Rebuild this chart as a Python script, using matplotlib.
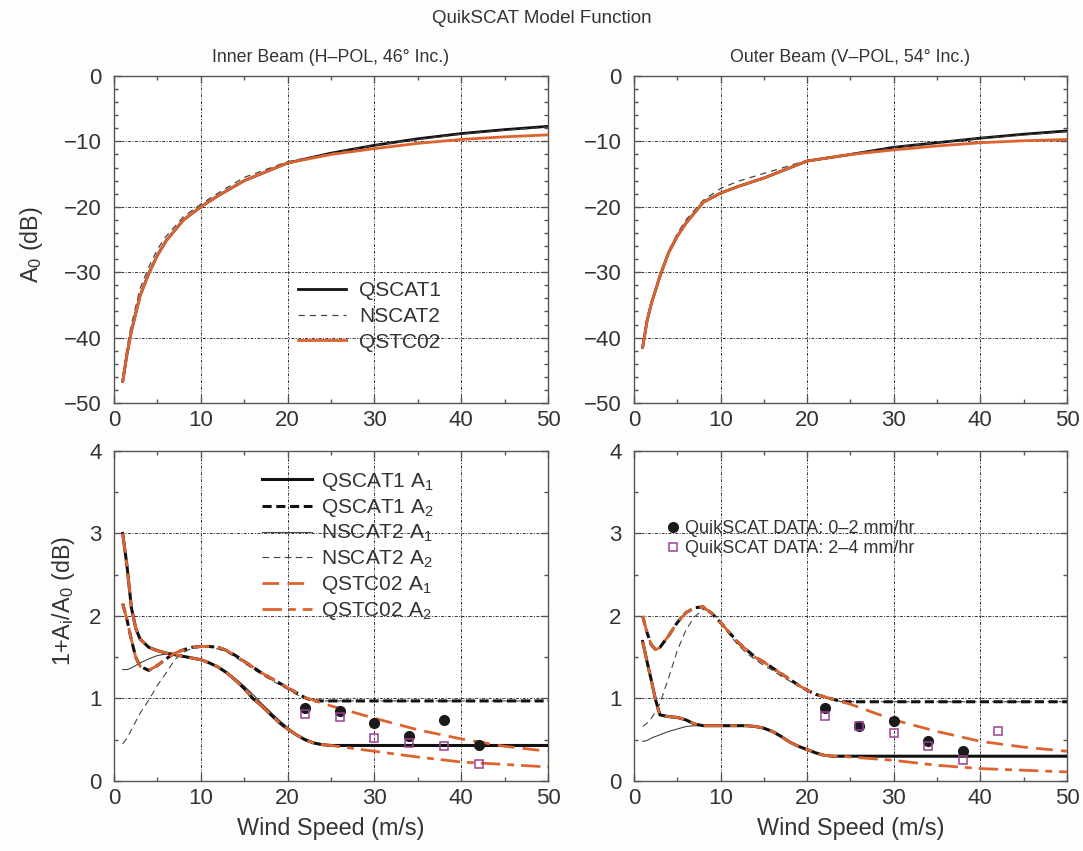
import numpy as np
import matplotlib
matplotlib.use('Agg')
import matplotlib.pyplot as plt
from matplotlib.ticker import MultipleLocator

plt.rcParams['font.family'] = ['Liberation Sans', 'DejaVu Sans']
plt.rcParams['mathtext.fontset'] = 'custom'
plt.rcParams['mathtext.rm'] = 'Liberation Sans'
plt.rcParams['mathtext.it'] = 'Liberation Sans'
plt.rcParams['mathtext.default'] = 'regular'

TXT = '#333333'
ORANGE = '#dd6430'
PURPLE = '#9b3f92'

# ---- A0 (top panels) ----
ws_a0 = [1, 1.5, 2, 3, 4, 5, 6, 8, 10, 12, 15, 20, 25, 30, 35, 40, 45, 50]

qscat1_a0_in = [-46.7, -42.5, -39.0, -33.6, -30.2, -27.4, -25.2, -22.0, -20.0, -18.3, -16.0, -13.3, -11.8, -10.6, -9.6, -8.8, -8.2, -7.7]
nscat2_a0_in = [-46.0, -41.5, -38.0, -32.5, -29.2, -26.5, -24.5, -21.5, -19.6, -17.9, -15.5, -13.1, -11.8, -10.6, -9.7, -8.9, -8.3, -7.8]
qstc02_a0_in = [-46.7, -42.5, -39.0, -33.6, -30.2, -27.4, -25.2, -22.0, -20.0, -18.3, -16.0, -13.3, -12.0, -11.1, -10.3, -9.7, -9.3, -9.0]

qscat1_a0_out = [-41.5, -37.5, -34.8, -30.6, -27.0, -24.5, -22.5, -19.3, -17.9, -16.9, -15.6, -13.0, -12.0, -10.9, -10.2, -9.5, -8.9, -8.4]
nscat2_a0_out = [-41.5, -37.5, -34.6, -30.3, -26.7, -24.1, -22.0, -19.0, -17.2, -16.1, -14.9, -12.9, -11.9, -10.9, -10.2, -9.5, -9.0, -8.5]
qstc02_a0_out = [-41.5, -37.5, -34.8, -30.6, -27.0, -24.5, -22.5, -19.3, -17.9, -16.9, -15.6, -13.0, -12.0, -11.3, -10.7, -10.2, -9.9, -9.7]

# ---- 1 + Ai/A0 (bottom panels) ----
ws_a = [1, 1.5, 2, 2.5, 3, 4, 5, 6, 7, 8, 9, 10, 11, 12, 13, 14, 15, 16, 17, 18, 19, 20,
        21, 22, 23, 24, 25, 30, 35, 40, 45, 50]

qscat1_a1_in = [3.00, 2.60, 2.10, 1.85, 1.72, 1.62, 1.58, 1.55, 1.53, 1.51, 1.49, 1.47, 1.43, 1.38, 1.31, 1.22,
                1.12, 1.00, 0.91, 0.81, 0.71, 0.63, 0.56, 0.50, 0.46, 0.44, 0.43, 0.43, 0.43, 0.43, 0.43, 0.43]
qscat1_a2_in = [2.15, 1.95, 1.71, 1.50, 1.39, 1.34, 1.40, 1.48, 1.55, 1.59, 1.62, 1.63, 1.63, 1.62, 1.58, 1.52,
                1.45, 1.38, 1.31, 1.25, 1.19, 1.13, 1.07, 1.01, 0.97, 0.97, 0.97, 0.97, 0.97, 0.97, 0.97, 0.97]
nscat2_a1_in = [1.35, 1.35, 1.37, 1.40, 1.43, 1.48, 1.52, 1.54, 1.53, 1.51, 1.49, 1.46, 1.43, 1.38, 1.32, 1.24,
                1.15, 1.05, 0.94, 0.84, 0.74, 0.65, 0.57, 0.51, 0.47, 0.44, 0.43, 0.43, 0.43, 0.43, 0.43, 0.43]
nscat2_a2_in = [0.45, 0.52, 0.62, 0.72, 0.82, 0.98, 1.16, 1.31, 1.47, 1.56, 1.61, 1.62, 1.62, 1.60, 1.56, 1.50,
                1.43, 1.36, 1.29, 1.23, 1.17, 1.11, 1.05, 1.00, 0.97, 0.97, 0.97, 0.97, 0.97, 0.97, 0.97, 0.97]
qstc02_a1_in = [2.15, 1.95, 1.71, 1.50, 1.39, 1.34, 1.40, 1.48, 1.55, 1.59, 1.62, 1.63, 1.63, 1.62, 1.58, 1.52,
                1.45, 1.38, 1.31, 1.25, 1.19, 1.13, 1.07, 1.01, 0.98, 0.94, 0.91, 0.76, 0.62, 0.51, 0.42, 0.36]
qstc02_a2_in = [3.00, 2.60, 2.10, 1.85, 1.72, 1.62, 1.58, 1.55, 1.53, 1.51, 1.49, 1.47, 1.43, 1.38, 1.31, 1.22,
                1.12, 1.00, 0.91, 0.81, 0.71, 0.63, 0.56, 0.50, 0.46, 0.44, 0.43, 0.36, 0.29, 0.23, 0.20, 0.17]

qscat1_a1_out = [1.69, 1.45, 1.22, 0.98, 0.80, 0.78, 0.77, 0.74, 0.69, 0.67, 0.67, 0.67, 0.67, 0.67, 0.67, 0.66,
                 0.64, 0.60, 0.54, 0.47, 0.42, 0.38, 0.34, 0.31, 0.30, 0.30, 0.30, 0.30, 0.30, 0.30, 0.30, 0.30]
qscat1_a2_out = [2.00, 1.80, 1.65, 1.59, 1.62, 1.76, 1.92, 2.04, 2.10, 2.11, 2.03, 1.92, 1.80, 1.68, 1.59, 1.50,
                 1.44, 1.37, 1.30, 1.23, 1.16, 1.10, 1.05, 1.02, 0.99, 0.96, 0.96, 0.96, 0.96, 0.96, 0.96, 0.96]
nscat2_a1_out = [0.48, 0.49, 0.52, 0.54, 0.56, 0.60, 0.63, 0.66, 0.67, 0.67, 0.67, 0.67, 0.67, 0.67, 0.67, 0.66,
                 0.63, 0.59, 0.53, 0.47, 0.42, 0.38, 0.34, 0.31, 0.30, 0.30, 0.30, 0.30, 0.30, 0.30, 0.30, 0.30]
nscat2_a2_out = [0.66, 0.70, 0.76, 0.84, 0.94, 1.25, 1.58, 1.83, 1.99, 2.08, 2.05, 1.92, 1.78, 1.65, 1.55, 1.47,
                 1.40, 1.34, 1.27, 1.21, 1.15, 1.09, 1.04, 1.01, 0.98, 0.96, 0.96, 0.96, 0.96, 0.96, 0.96, 0.96]
qstc02_a1_out = [2.00, 1.80, 1.65, 1.59, 1.62, 1.76, 1.92, 2.04, 2.10, 2.11, 2.03, 1.92, 1.80, 1.68, 1.59, 1.50,
                 1.44, 1.37, 1.30, 1.23, 1.16, 1.10, 1.05, 1.02, 0.99, 0.96, 0.93, 0.74, 0.60, 0.48, 0.41, 0.36]
qstc02_a2_out = [1.69, 1.45, 1.22, 0.98, 0.80, 0.78, 0.77, 0.74, 0.69, 0.67, 0.67, 0.67, 0.67, 0.67, 0.67, 0.66,
                 0.64, 0.60, 0.54, 0.47, 0.42, 0.38, 0.34, 0.31, 0.30, 0.30, 0.29, 0.25, 0.19, 0.15, 0.13, 0.11]

# QuikSCAT data points
pts_ws_in = [22, 26, 30, 34, 38, 42]
rain02_in = [0.88, 0.85, 0.70, 0.54, 0.74, 0.44]
rain24_in = [0.81, 0.78, 0.52, 0.46, 0.42, 0.21]
pts_ws_out_02 = [22, 26, 30, 34, 38]
rain02_out = [0.88, 0.67, 0.73, 0.48, 0.36]
pts_ws_out_24 = [22, 26, 30, 34, 38, 42]
rain24_out = [0.79, 0.67, 0.58, 0.42, 0.26, 0.61]


def style_ax(ax, ymin, ymax, ymaj, ymin_step):
    ax.set_xlim(0, 50)
    ax.set_ylim(ymin, ymax)
    ax.xaxis.set_major_locator(MultipleLocator(10))
    ax.xaxis.set_minor_locator(MultipleLocator(5))
    ax.yaxis.set_major_locator(MultipleLocator(ymaj))
    ax.yaxis.set_minor_locator(MultipleLocator(ymin_step))
    ax.tick_params(which='both', direction='in', top=True, right=True,
                   colors='#555555', labelcolor=TXT, labelsize=16)
    ax.tick_params(which='major', length=5, width=1)
    ax.tick_params(which='minor', length=3, width=1)
    ax.tick_params(axis='x', pad=5)
    ax.tick_params(axis='y', pad=9)
    for s in ax.spines.values():
        s.set_color('#555555')
        s.set_linewidth(1)
    ax.grid(True, which='major', color='#333333', linestyle=(0, (3, 1.5, 1, 1.5)), linewidth=0.7)
    ax.set_axisbelow(True)


fig = plt.figure(figsize=(10.83, 8.51), dpi=100, facecolor='#fdfdfb')
ax_tl = fig.add_axes([0.1053, 0.5264, 0.4007, 0.3843])
ax_tr = fig.add_axes([0.5854, 0.5264, 0.3998, 0.3843])
ax_bl = fig.add_axes([0.1053, 0.0823, 0.4007, 0.3878])
ax_br = fig.add_axes([0.5854, 0.0823, 0.3998, 0.3878])

# top panels
for ax, q1, n2, qs in [(ax_tl, qscat1_a0_in, nscat2_a0_in, qstc02_a0_in),
                       (ax_tr, qscat1_a0_out, nscat2_a0_out, qstc02_a0_out)]:
    style_ax(ax, -50, 0, 10, 2)
    ax.plot(ws_a0, q1, color='#111111', lw=2.0, label='QSCAT1', zorder=3)
    ax.plot(ws_a0, n2, color='#444444', lw=0.9, ls=(0, (5, 4)), label='NSCAT2', zorder=4)
    ax.plot(ws_a0, qs, color=ORANGE, lw=2.0, label='QSTC02', zorder=5)

ax_tl.legend(loc='upper left', bbox_to_anchor=(0.425, 0.372), frameon=False, fontsize=15,
             handlelength=2.3, handletextpad=0.6, labelspacing=0.32, borderpad=0, borderaxespad=0,
             labelcolor=TXT)

# bottom panels
for ax, a1, a2, n1, n2, s1, s2 in [
        (ax_bl, qscat1_a1_in, qscat1_a2_in, nscat2_a1_in, nscat2_a2_in, qstc02_a1_in, qstc02_a2_in),
        (ax_br, qscat1_a1_out, qscat1_a2_out, nscat2_a1_out, nscat2_a2_out, qstc02_a1_out, qstc02_a2_out)]:
    style_ax(ax, 0, 4, 1, 0.5)
    ax.plot(ws_a, a1, color='#111111', lw=2.2, label='QSCAT1 A$_1$', zorder=3)
    ax.plot(ws_a, a2, color='#111111', lw=2.2, ls=(0, (3, 1.5)), label='QSCAT1 A$_2$', zorder=3)
    ax.plot(ws_a, n1, color='#444444', lw=0.8, label='NSCAT2 A$_1$', zorder=2)
    ax.plot(ws_a, n2, color='#444444', lw=0.8, ls=(0, (6, 4)), label='NSCAT2 A$_2$', zorder=2)
    ax.plot(ws_a, s1, color=ORANGE, lw=2.0, ls=(0, (6, 3)), label='QSTC02 A$_1$', zorder=4)
    ax.plot(ws_a, s2, color=ORANGE, lw=2.0, ls=(0, (7, 2.5, 2.5, 2.5)), label='QSTC02 A$_2$', zorder=4)
    ax.set_xlabel('Wind Speed (m/s)', fontsize=16.8, color=TXT, labelpad=6)

ax_bl.legend(loc='upper left', bbox_to_anchor=(0.34, 0.94), frameon=False, fontsize=15,
             handlelength=2.4, handletextpad=0.45, labelspacing=0.2, borderpad=0, borderaxespad=0,
             labelcolor=TXT)

ax_bl.plot(pts_ws_in, rain02_in, 'o', color='#1a1a1a', ms=7, zorder=6)
ax_bl.plot(pts_ws_in, rain24_in, 's', mfc='none', mec=PURPLE, mew=1.1, ms=6, zorder=6)

p1, = ax_br.plot(pts_ws_out_02, rain02_out, 'o', color='#1a1a1a', ms=7, zorder=6,
                 label='QuikSCAT DATA: 0\u20132 mm/hr')
p2, = ax_br.plot(pts_ws_out_24, rain24_out, 's', mfc='none', mec=PURPLE, mew=1.1, ms=6, zorder=6,
                 label='QuikSCAT DATA: 2\u20134 mm/hr')
ax_br.legend(handles=[p1, p2], loc='upper left', bbox_to_anchor=(0.078, 0.79), frameon=False,
             fontsize=13, handlelength=0.6, handletextpad=0.35, labelspacing=0.15,
             borderpad=0, borderaxespad=0, labelcolor=TXT)

# labels and titles
ax_tl.set_ylabel('A$_0$ (dB)', fontsize=16.8, color=TXT)
ax_tl.yaxis.set_label_coords(-0.16, 0.485)
ax_bl.set_ylabel('1+A$_i$/A$_0$ (dB)', fontsize=16.8, color=TXT)
ax_bl.yaxis.set_label_coords(-0.085, 0.545)

ax_tl.set_title('Inner Beam (H\u2013POL, 46\u00b0 Inc.)', fontsize=12.8, color=TXT, pad=10)
ax_tr.set_title('Outer Beam (V\u2013POL, 54\u00b0 Inc.)', fontsize=12.8, color=TXT, pad=10)
fig.text(0.5, 0.978, 'QuikSCAT Model Function', ha='center', va='center', fontsize=13.5, color=TXT)

fig.savefig('out.png', dpi=100, facecolor=fig.get_facecolor())
